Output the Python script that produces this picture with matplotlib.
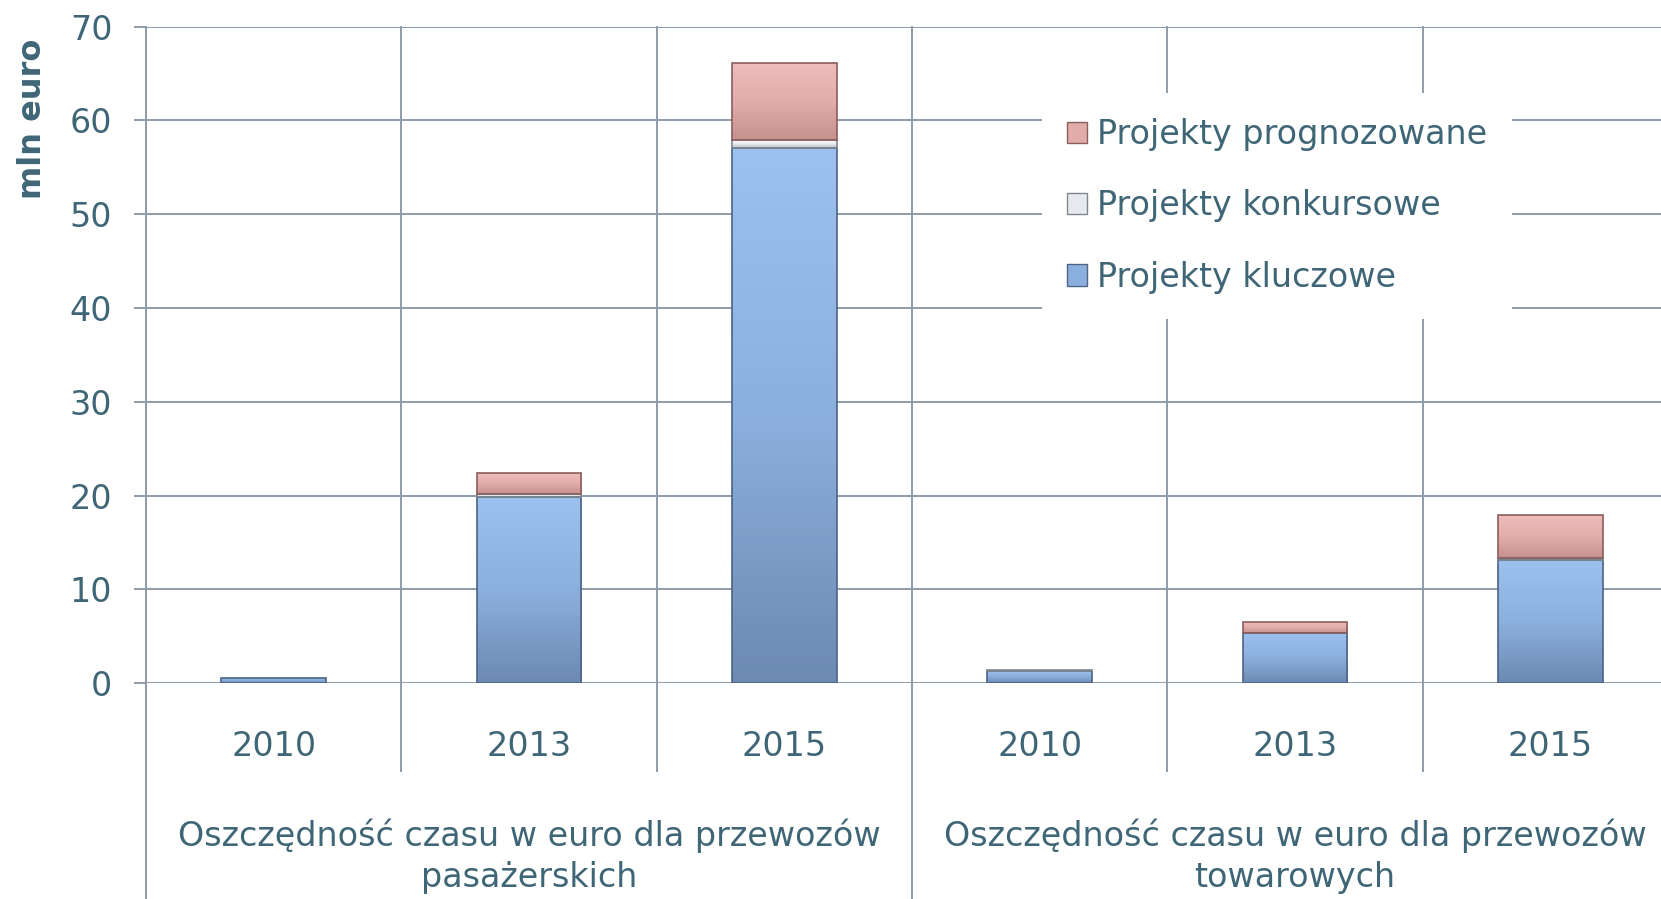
import matplotlib.pyplot as plt
import numpy as np
from matplotlib.colors import LinearSegmentedColormap
from matplotlib.patches import Patch

years = ["2010", "2013", "2015", "2010", "2013", "2015"]
groups = ["Oszczędność czasu w euro dla przewozów\npasażerskich",
          "Oszczędność czasu w euro dla przewozów\ntowarowych"]
kluczowe = [0.6, 19.9, 57.1, 1.3, 5.4, 13.1]
konkursowe = [0.0, 0.3, 0.8, 0.1, 0.0, 0.3]
prognozowane = [0.0, 2.2, 8.2, 0.0, 1.1, 4.5]
yticks = [0, 10, 20, 30, 40, 50, 60, 70]

txt = "#3F6677"
grid = "#8E9CA7"
plt.rcParams["font.family"] = ["DejaVu Sans"]

fig = plt.figure(figsize=(16.61, 8.99), dpi=100)
ax = fig.add_axes([0.088, 0.2399, 0.9222, 0.7306])
x = np.arange(len(years))
w = 0.41

styles = [
    ("Projekty kluczowe", kluczowe, ["#6C8AB2", "#8CB0DE", "#9CC1EE"], "#4C6486"),
    ("Projekty konkursowe", konkursowe, ["#B9C0C8", "#E6EAEE", "#FFFFFF"], "#7D8790"),
    ("Projekty prognozowane", prognozowane, ["#C6918F", "#E2ACAA", "#EDBDBB"], "#8A5E5C"),
]

bottom = np.zeros(len(x))
handles = []
for name, vals, cols, edge in styles:
    bars = ax.bar(x, vals, w, bottom=bottom, color=cols[1], edgecolor=edge, lw=1.2, zorder=3)
    cmap = LinearSegmentedColormap.from_list(name, cols)
    grad = np.linspace(1, 0, 100).reshape(-1, 1)
    for p in bars.patches:
        if p.get_height() <= 0:
            p.set_visible(False)
            continue
        im = ax.imshow(grad, cmap=cmap, aspect="auto", zorder=3.1,
                       extent=(p.get_x(), p.get_x() + p.get_width(), p.get_y(), p.get_y() + p.get_height()))
        im.set_clip_path(p)
        p.set_facecolor("none")
        p.set_zorder(4)
    handles.append(Patch(facecolor=cols[1], edgecolor=edge, label=name))
    bottom = bottom + np.array(vals)

ax.set_xlim(-0.5, 5.5)
ax.set_ylim(0, 70)
ax.set_yticks(yticks)
ax.set_xticks([])
for s in ax.spines.values():
    s.set_visible(False)
ax.yaxis.grid(True, color=grid, lw=1.4, zorder=1)
ax.tick_params(axis="y", length=8.4, width=1.4, color=grid, pad=16, labelsize=24, labelcolor=txt)

# category separators
xt = ax.get_xaxis_transform()
for b in [0.5, 1.5, 3.5, 4.5]:
    ax.plot([b, b], [1, -0.134], transform=xt, color=grid, lw=1.4, clip_on=False, zorder=1)
for b in [-0.5, 2.5]:
    ax.plot([b, b], [1, -0.34], transform=xt, color=grid, lw=1.4, clip_on=False, zorder=1)

for xi, yr in zip(x, years):
    ax.text(xi, -0.096, yr, transform=xt, ha="center", va="center", fontsize=24, color=txt)
for gx, g in zip([1, 4], groups):
    ax.text(gx, -0.263, g, transform=xt, ha="center", va="center", fontsize=24, color=txt, linespacing=1.32)

fig.text(0.0193, 0.8676, "mln euro", rotation=90, ha="center", va="center",
         fontsize=23, fontweight="bold", color=txt)

leg = ax.legend(handles=handles[::-1], loc="upper left", bbox_to_anchor=(0.574, 0.924),
                frameon=True, fancybox=False, facecolor="white", edgecolor="none", framealpha=1,
                fontsize=24, labelcolor=txt, handlelength=0.6, handleheight=0.6,
                handletextpad=0.3, labelspacing=1.15, borderpad=0.75)
leg.set_zorder(5)

fig.savefig("out.png", dpi=100)
